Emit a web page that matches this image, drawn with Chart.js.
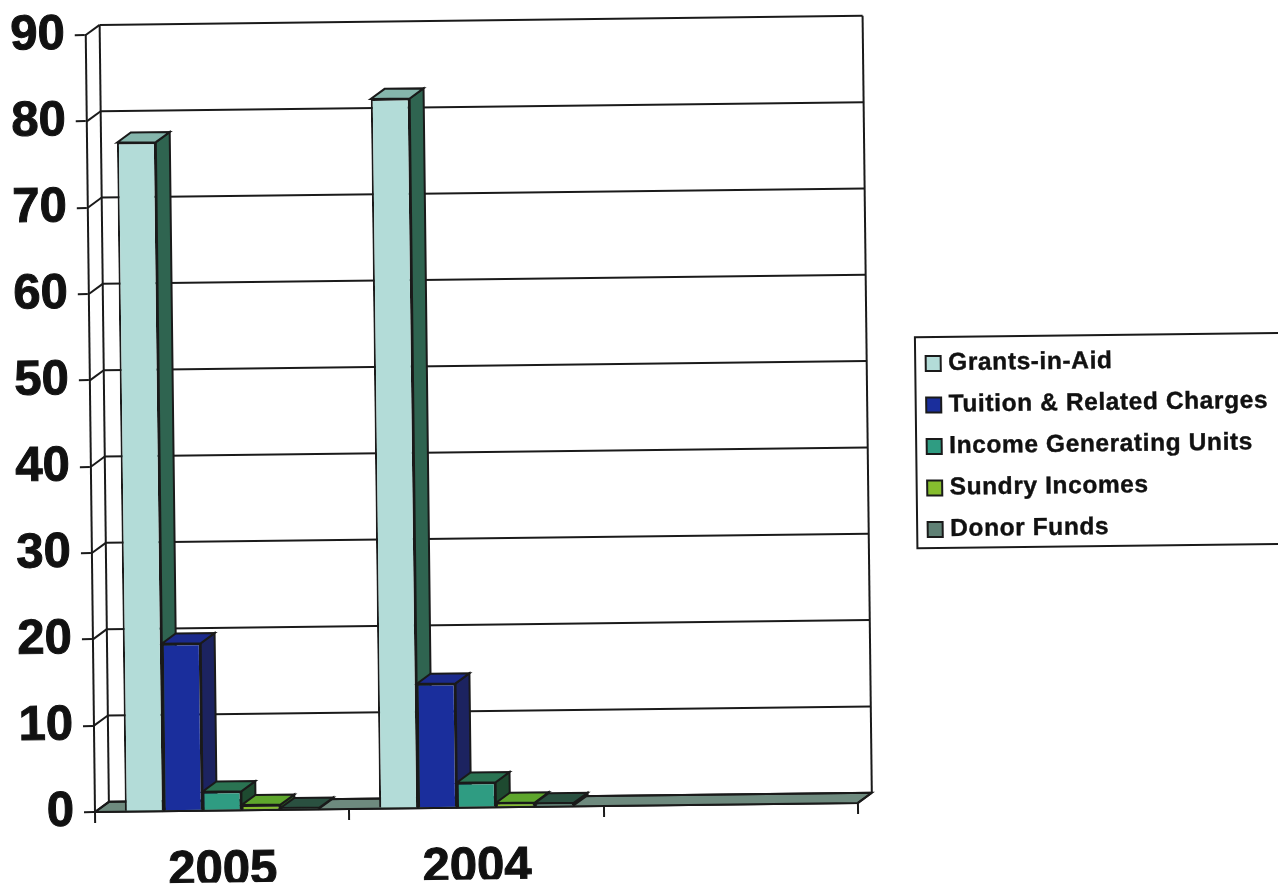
<!DOCTYPE html>
<html>
<head>
<meta charset="utf-8">
<title>Income sources</title>
<script src="https://cdn.jsdelivr.net/npm/chart.js@4/dist/chart.umd.min.js"></script>
<style>
    html, body { margin: 0; padding: 0; background: #fff; }
    canvas { display: block; }
</style>
</head>
<body>
<canvas id="incomeChart" width="1278" height="884"></canvas>
<script>
// Income sources by year, 3D style columns

const years = ['2005', '2004', ''];
const seriesNames = ['Grants-in-Aid', 'Tuition & Related Charges', 'Income Generating Units', 'Sundry Incomes', 'Donor Funds'];

const grantsInAid = [77.5, 82.2, null];
const tuitionCharges = [19.4, 14.4, null];
const incomeUnits = [2.2, 2.9, null];
const sundryIncomes = [0.6, 0.5, null];
const donorFunds = [0.2, 0.4, null];

const yTicks = [0, 10, 20, 30, 40, 50, 60, 70, 80, 90];

const frontColors = ['#b3dcd8', '#1a2e9c', '#2f9c82', '#86bd2e', '#5f8074'];
const topColors = ['#85b6ac', '#1b2a8c', '#2a7352', '#5ea62c', '#2a5040'];
const sideColors = ['#2f6450', '#1c2360', '#1e4a30', '#2c5a20', '#1f3a30'];

const LINE = '#1a1a1a';
const TEXT = '#111';
const FLOOR = '#6e8a7e';
const LINE_WIDTH = 2;
const DEPTH_X = 14;
const DEPTH_Y = -10;
const TILT = -0.0119;
const PIVOT_X = 95;
const PIVOT_Y = 812;
const FONT_FAMILY = '"Liberation Sans", Arial, sans-serif';

function poly(ctx, pts, fill) {
    ctx.beginPath();
    pts.forEach((p, i) => i ? ctx.lineTo(p[0], p[1]) : ctx.moveTo(p[0], p[1]));
    ctx.closePath();
    if (fill) {
        ctx.fillStyle = fill;
        ctx.fill();
    }
    ctx.stroke();
}

function line(ctx, x1, y1, x2, y2) {
    ctx.beginPath();
    ctx.moveTo(x1, y1);
    ctx.lineTo(x2, y2);
    ctx.stroke();
}

// The whole drawing sits at a slight angle
const tiltPlugin = {
    id: 'tilt',
    beforeDraw(chart) {
        const ctx = chart.ctx;
        ctx.save();
        ctx.translate(PIVOT_X, PIVOT_Y);
        ctx.rotate(TILT);
        ctx.translate(-PIVOT_X, -PIVOT_Y);
    },
    afterDraw(chart) {
        chart.ctx.restore();
    }
};

// Back wall, floor, and the depth faces of every column
const depthPlugin = {
    id: 'depth',
    beforeDatasetsDraw(chart) {
        const ctx = chart.ctx;
        const y = chart.scales.y;
        const { left, right, bottom } = chart.chartArea;

        ctx.save();
        ctx.strokeStyle = LINE;
        ctx.lineWidth = LINE_WIDTH;

        poly(ctx, [[left, bottom], [right, bottom], [right + DEPTH_X, bottom + DEPTH_Y], [left + DEPTH_X, bottom + DEPTH_Y]], FLOOR);

        yTicks.forEach(v => {
            const py = y.getPixelForValue(v);
            line(ctx, left, py, left + DEPTH_X, py + DEPTH_Y);
            line(ctx, left + DEPTH_X, py + DEPTH_Y, right + DEPTH_X, py + DEPTH_Y);
        });
        const topY = y.getPixelForValue(yTicks[yTicks.length - 1]) + DEPTH_Y;
        line(ctx, left + DEPTH_X, topY, left + DEPTH_X, bottom + DEPTH_Y);
        line(ctx, right + DEPTH_X, topY, right + DEPTH_X, bottom + DEPTH_Y);
        line(ctx, right, bottom, right + DEPTH_X, bottom + DEPTH_Y);

        // left to right so each column hides the side of the one before it
        years.forEach((year, c) => {
            chart.data.datasets.forEach((ds, s) => {
                const bar = chart.getDatasetMeta(s).data[c];
                if (ds.data[c] === null) return;
                const x0 = bar.x - bar.width / 2;
                const x1 = bar.x + bar.width / 2;
                poly(ctx, [[x1, bar.y], [x1 + DEPTH_X, bar.y + DEPTH_Y], [x1 + DEPTH_X, bar.base + DEPTH_Y], [x1, bar.base]], sideColors[s]);
                poly(ctx, [[x0, bar.y], [x1, bar.y], [x1 + DEPTH_X, bar.y + DEPTH_Y], [x0 + DEPTH_X, bar.y + DEPTH_Y]], topColors[s]);
            });
        });
        ctx.restore();
    }
};

// Boxed legend on the right, runs off the page edge
const legendPlugin = {
    id: 'boxLegend',
    afterDatasetsDraw(chart) {
        const ctx = chart.ctx;
        ctx.save();
        ctx.strokeStyle = LINE;
        ctx.lineWidth = LINE_WIDTH;
        ctx.strokeRect(920.5, 347, 420, 211);
        ctx.font = 'bold 24.5px ' + FONT_FAMILY;
        ctx.textBaseline = 'middle';
        ctx.textAlign = 'left';
        ctx.letterSpacing = '0.6px';
        chart.data.datasets.forEach((ds, i) => {
            const rowY = 373.5 + i * 41.5;
            ctx.fillStyle = frontColors[i];
            ctx.fillRect(931, rowY - 7.5, 15, 15);
            ctx.strokeRect(931, rowY - 7.5, 15, 15);
            ctx.fillStyle = TEXT;
            ctx.strokeStyle = TEXT;
            ctx.lineWidth = 0.4;
            ctx.fillText(ds.label, 953.5, rowY);
            ctx.strokeText(ds.label, 953.5, rowY);
            ctx.strokeStyle = LINE;
            ctx.lineWidth = LINE_WIDTH;
        });
        ctx.restore();
    }
};

const seriesValues = [grantsInAid, tuitionCharges, incomeUnits, sundryIncomes, donorFunds];

new Chart(document.getElementById('incomeChart'), {
    type: 'bar',
    data: {
        labels: years,
        datasets: seriesNames.map((name, i) => ({
            label: name,
            data: seriesValues[i],
            backgroundColor: frontColors[i],
            borderColor: LINE,
            borderWidth: LINE_WIDTH,
            categoryPercentage: 0.765,
            barPercentage: 1,
            clip: false
        }))
    },
    options: {
        responsive: false,
        animation: false,
        layout: {
            padding: { left: 0, right: 420, top: 35, bottom: 0 }
        },
        plugins: {
            legend: { display: false },
            tooltip: { enabled: false }
        },
        scales: {
            x: {
                afterFit: scale => { scale.height = 72; },
                border: { color: LINE, width: LINE_WIDTH },
                grid: { drawOnChartArea: false, drawTicks: true, tickLength: 11, color: LINE, lineWidth: LINE_WIDTH },
                ticks: {
                    color: TEXT,
                    padding: 20,
                    maxRotation: 0,
                    textStrokeColor: TEXT,
                    textStrokeWidth: 1,
                    font: { family: FONT_FAMILY, size: 49, weight: 'bold' }
                }
            },
            y: {
                min: 0,
                max: 90,
                // labels may overhang the plot, keep the layout from reserving room for them
                afterFit: scale => {
                    scale.width = 95;
                    scale.paddingTop = 0;
                    scale.paddingBottom = 0;
                },
                border: { color: LINE, width: LINE_WIDTH },
                grid: { drawOnChartArea: false, drawTicks: true, tickLength: 11, color: LINE, lineWidth: LINE_WIDTH },
                afterBuildTicks: scale => { scale.ticks = yTicks.map(v => ({ value: v })); },
                ticks: {
                    color: TEXT,
                    padding: 10,
                    textStrokeColor: TEXT,
                    textStrokeWidth: 1,
                    font: { family: FONT_FAMILY, size: 49, weight: 'bold' }
                }
            }
        }
    },
    plugins: [tiltPlugin, depthPlugin, legendPlugin]
});
</script>
</body>
</html>
